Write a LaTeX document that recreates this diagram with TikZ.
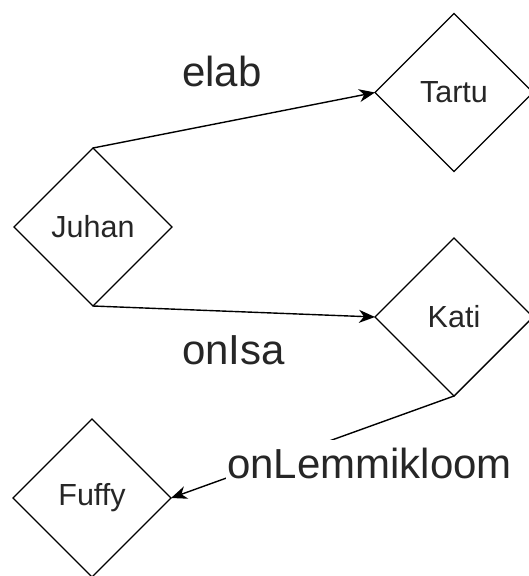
\documentclass[tikz,border=0pt]{standalone}
\usepackage{fontspec}
\setmainfont{Liberation Sans}
\usetikzlibrary{shapes.geometric,arrows.meta}

\tikzset{
  entity/.style={diamond, draw=black, line width=1.4pt, fill=white,
    minimum width=158pt, minimum height=158pt, inner sep=0pt, outer sep=0pt,
    font=\fontsize{30.5}{34}\selectfont, text=black!85},
  relation/.style={draw=black, line width=1.4pt,
    -{Stealth[length=16pt,width=13pt,inset=5pt]}},
  rellabel/.style={anchor=base west, inner sep=0pt,
    font=\fontsize{42}{48}\selectfont, text=black!85},
}

\begin{document}
\begin{tikzpicture}[x=1pt,y=-1pt]
  \useasboundingbox (0,0) rectangle (528,576);

  % entities
  \node[entity] (juhan) at (93,227)  {Juhan};
  \node[entity] (tartu) at (454,92.5) {Tartu};
  \node[entity] (kati)  at (454,317) {Kati};
  \node[entity] (fuffy) at (92,498)  {Fuffy};

  % relations
  \draw[relation] (juhan.north) -- (tartu.west);
  \draw[relation] (juhan.south) -- (kati.west);
  \draw[relation] (kati.south) -- (fuffy.east);

  % relation names
  \node[rellabel] (elab) at (182,86) {elab};
  \node[rellabel] (onisa) at (182,364) {onIsa};
  \node[rellabel, fill=white, inner xsep=1pt, inner ysep=0.5pt,
        text height=38pt, text depth=8pt] (lemmik) at (226,478) {onLemmikloom};
\end{tikzpicture}
\end{document}
